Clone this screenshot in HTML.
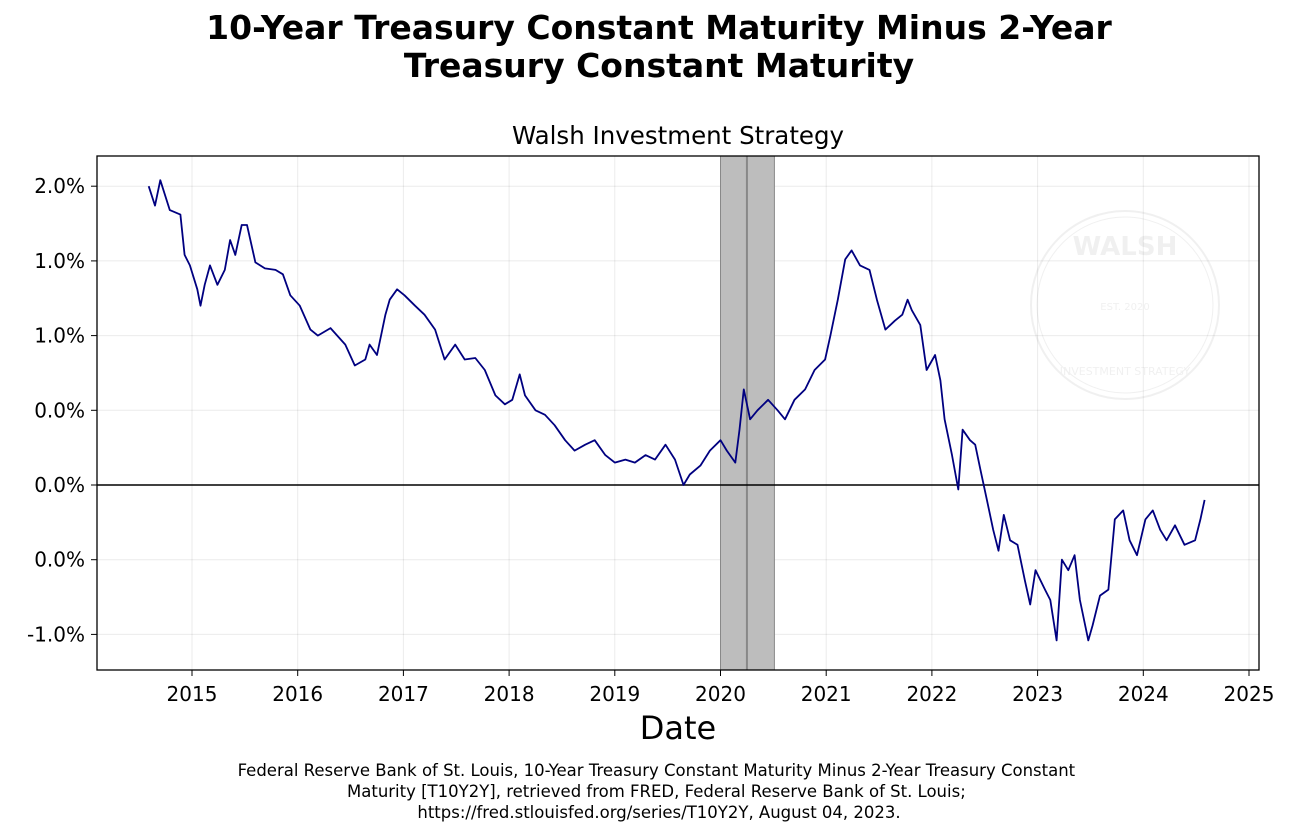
<!DOCTYPE html>
<html><head><meta charset="utf-8"><style>
body{margin:0;background:#fff;font-family:"Liberation Sans","DejaVu Sans",sans-serif}
</style></head><body>
<svg id="chart" width="1300" height="829" xmlns="http://www.w3.org/2000/svg" font-family="DejaVu Sans, Liberation Sans, sans-serif">
<text x="659" y="39" font-size="33" font-weight="bold" text-anchor="middle">10-Year Treasury Constant Maturity Minus 2-Year</text>
<text x="659" y="77" font-size="33" font-weight="bold" text-anchor="middle">Treasury Constant Maturity</text>
<text x="678" y="144" font-size="24.5" text-anchor="middle">Walsh Investment Strategy</text>
<g id="grid"></g><g id="marks"></g><g id="axes"></g>
<g opacity="0.12" stroke="#888" fill="none">
<circle cx="1125" cy="305" r="94" stroke-width="2"/><circle cx="1125" cy="305" r="88"/>
<text x="1125" y="255" font-size="26" fill="#888" stroke="none" text-anchor="middle" font-weight="bold">WALSH</text>
<text x="1125" y="310" font-size="10" fill="#888" stroke="none" text-anchor="middle">EST.          2020</text>
<text x="1125" y="375" font-size="11" fill="#888" stroke="none" text-anchor="middle">INVESTMENT STRATEGY</text>
</g>
<text x="678" y="739" font-size="32" text-anchor="middle">Date</text>
<text font-size="16.5" text-anchor="middle">
<tspan x="659" y="776">Federal Reserve Bank of St. Louis, 10-Year Treasury Constant Maturity Minus 2-Year Treasury Constant</tspan>
<tspan x="659" y="797">Maturity [T10Y2Y], retrieved from FRED, Federal Reserve Bank of St. Louis;</tspan>
<tspan x="659" y="818">https://fred.stlouisfed.org/series/T10Y2Y, August 04, 2023.</tspan>
</text>
</svg>
<script>
const dates=[14.59,14.65,14.70,14.79,14.89,14.93,14.98,15.05,15.08,15.12,15.17,15.24,15.31,15.36,15.41,15.47,15.52,15.60,15.69,15.79,15.86,15.93,16.02,16.12,16.19,16.31,16.45,16.54,16.64,16.68,16.75,16.83,16.87,16.94,17.01,17.11,17.20,17.30,17.39,17.49,17.58,17.68,17.77,17.87,17.96,18.03,18.10,18.15,18.25,18.34,18.43,18.53,18.62,18.72,18.81,18.91,19.00,19.10,19.19,19.29,19.38,19.48,19.57,19.65,19.71,19.81,19.90,20.00,20.06,20.14,20.18,20.22,20.28,20.35,20.45,20.54,20.61,20.70,20.80,20.89,20.99,21.04,21.11,21.18,21.24,21.32,21.41,21.48,21.56,21.65,21.72,21.77,21.81,21.89,21.95,22.03,22.08,22.12,22.19,22.25,22.29,22.36,22.41,22.46,22.52,22.58,22.63,22.68,22.74,22.81,22.88,22.93,22.98,23.07,23.12,23.18,23.23,23.29,23.35,23.40,23.48,23.52,23.59,23.67,23.73,23.81,23.87,23.94,24.02,24.09,24.16,24.22,24.30,24.39,24.49,24.54,24.58];
const spread=[2.0,1.87,2.04,1.84,1.81,1.54,1.47,1.31,1.2,1.34,1.47,1.34,1.44,1.64,1.54,1.74,1.74,1.49,1.45,1.44,1.41,1.27,1.2,1.04,1.0,1.05,0.94,0.8,0.84,0.94,0.87,1.14,1.24,1.31,1.27,1.2,1.14,1.04,0.84,0.94,0.84,0.85,0.77,0.6,0.54,0.57,0.74,0.6,0.5,0.47,0.40,0.30,0.23,0.27,0.30,0.20,0.15,0.17,0.15,0.20,0.17,0.27,0.17,0.0,0.07,0.13,0.23,0.30,0.23,0.15,0.37,0.64,0.44,0.5,0.57,0.5,0.44,0.57,0.64,0.77,0.84,1.0,1.24,1.51,1.57,1.47,1.44,1.24,1.04,1.1,1.14,1.24,1.17,1.07,0.77,0.87,0.7,0.44,0.2,-0.03,0.37,0.30,0.27,0.1,-0.1,-0.3,-0.44,-0.2,-0.37,-0.4,-0.64,-0.8,-0.57,-0.7,-0.77,-1.04,-0.5,-0.57,-0.47,-0.77,-1.04,-0.94,-0.74,-0.7,-0.23,-0.17,-0.37,-0.47,-0.23,-0.17,-0.3,-0.37,-0.27,-0.4,-0.37,-0.23,-0.1];
const xTicks=[2015,2016,2017,2018,2019,2020,2021,2022,2023,2024,2025];
const yTicks=[2,1.5,1,0.5,0,-0.5,-1];
const yTickLabels=["2.0%","1.0%","1.0%","0.0%","0.0%","0.0%","-1.0%"];
const recession=[2020.0,2020.51];
const recessionMid=2020.25;
const L=97,R=1259,T=156,B=670;
const x=d=>192+(d+2000-2015)*105.7;
const y=v=>485-v*149.4;
const NS="http://www.w3.org/2000/svg";
function mk(p,t,a){const e=document.createElementNS(NS,t);for(const k in a)e.setAttribute(k,a[k]);document.getElementById(p).appendChild(e);return e;}
xTicks.forEach(t=>{const px=x(t-2000);
const e=mk('grid','line',{x1:px,x2:px,y1:T,y2:B,stroke:'#000','stroke-opacity':0.08});


const k=mk('axes','line',{x1:px,x2:px,y1:B,y2:B+6,stroke:'#000'});


const l=mk('axes','text',{x:px,y:B+31,'font-size':20,'text-anchor':'middle'});l.textContent=t;

});
yTicks.forEach((t,i)=>{const e=mk('grid','line',{x1:L,x2:R,y1:y(t),y2:y(t),stroke:'#000','stroke-opacity':0.08});


const k=mk('axes','line',{x1:L-6,x2:L,y1:y(t),y2:y(t),stroke:'#000'});


const l=mk('axes','text',{x:L-12,y:y(t)+7,'font-size':20,'text-anchor':'end'});l.textContent=yTickLabels[i];

});
const rs=mk('marks','rect',{x:x(recession[0]-2000),y:T,width:x(recession[1]-2000)-x(recession[0]-2000),height:B-T,fill:'#bdbdbd',stroke:'#888'});


const rl=mk('marks','line',{x1:x(recessionMid-2000),x2:x(recessionMid-2000),y1:T,y2:B,stroke:'#888','stroke-width':2});


const z=mk('marks','line',{x1:L,x2:R,y1:y(0),y2:y(0),stroke:'#000','stroke-width':1.5});


const n=Math.min(dates.length,spread.length);
const pts=[];for(let i=0;i<n;i++)pts.push(x(dates[i]).toFixed(1)+','+y(spread[i]).toFixed(1));
const ln=mk('marks','polyline',{points:pts.join(' '),fill:'none',stroke:'#000080','stroke-width':1.8,'stroke-linejoin':'round'});


const fr=mk('axes','rect',{x:L,y:T,width:R-L,height:B-T,fill:'none',stroke:'#000','stroke-width':1.3});


</script>
</body></html>
